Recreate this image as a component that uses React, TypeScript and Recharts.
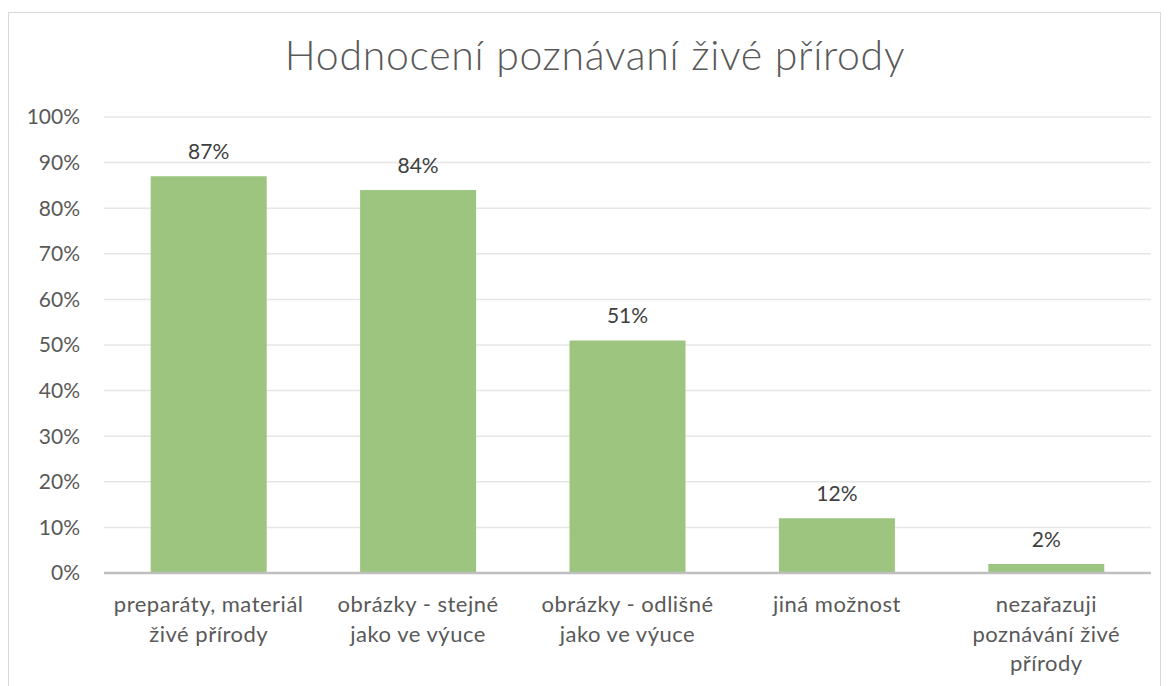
import { Bar, BarChart, CartesianGrid, LabelList, XAxis, YAxis } from "recharts";

const categories = [
	"preparáty, materiál|živé přírody",
	"obrázky - stejné|jako ve výuce",
	"obrázky - odlišné|jako ve výuce",
	"jiná možnost",
	"nezařazuji|poznávání živé|přírody",
];
const shares = [87, 84, 51, 12, 2];
const yTicks = [0, 10, 20, 30, 40, 50, 60, 70, 80, 90, 100];

const chartData = categories.map((name, i) => ({ name, value: shares[i] }));

const textColor = "#595959";
const font = "Lato, 'Open Sans', sans-serif";

function CategoryTick({ x, y, payload }: any) {
	const lines = String(payload.value).split("|");
	return (
		<text
			x={x}
			y={y}
			textAnchor="middle"
			fill={textColor}
			fontSize={22}
			fontFamily={font}
			letterSpacing={0.5}
		>
			{lines.map((line, i) => (
				<tspan key={i} x={x} dy={i === 0 ? 39 : 29.5}>
					{line}
				</tspan>
			))}
		</text>
	);
}

export default function App() {
	return (
		<div
			style={{
				position: "fixed",
				left: 0,
				top: 0,
				width: 1170,
				height: 686,
				background: "#fff",
				overflow: "hidden",
			}}
		>
			<div
				style={{
					position: "absolute",
					left: 8,
					top: 12,
					width: 1151,
					height: 700,
					border: "1.5px solid #D9D9D9",
				}}
			/>
			<div
				style={{
					position: "absolute",
					left: 20,
					top: 30,
					width: 1150,
					textAlign: "center",
					fontFamily: font,
					fontWeight: 300,
					fontSize: 41,
					color: textColor,
					letterSpacing: 0.7,
				}}
			>
				Hodnocení poznávaní živé přírody
			</div>
			<div style={{ position: "absolute", left: 0, top: 0 }}>
				<BarChart
					width={1170}
					height={686}
					data={chartData}
					margin={{ top: 117, right: 19, left: 0, bottom: 13 }}
					barCategoryGap="22.3%"
				>
					<CartesianGrid vertical={false} stroke="#E6E6E6" strokeWidth={1.5} />
					<XAxis
						dataKey="name"
						interval={0}
						height={100}
						tick={<CategoryTick />}
						tickLine={false}
						tickSize={0}
						tickMargin={0}
						axisLine={{ stroke: "#BFBFBF", strokeWidth: 2.5 }}
					/>
					<YAxis
						width={104}
						domain={[0, 100]}
						ticks={yTicks}
						interval={0}
						tickFormatter={(v) => `${v}%`}
						tick={{ fill: textColor, fontSize: 21, fontFamily: font }}
						axisLine={false}
						tickLine={false}
						tickSize={0}
						tickMargin={24}
					/>
					<Bar dataKey="value" fill="#9DC57F" isAnimationActive={false}>
						<LabelList
							dataKey="value"
							position="top"
							offset={17}
							formatter={(v: any) => `${v}%`}
							fill="#404040"
							fontSize={21}
							fontFamily={font}
						/>
					</Bar>
				</BarChart>
			</div>
		</div>
	);
}
